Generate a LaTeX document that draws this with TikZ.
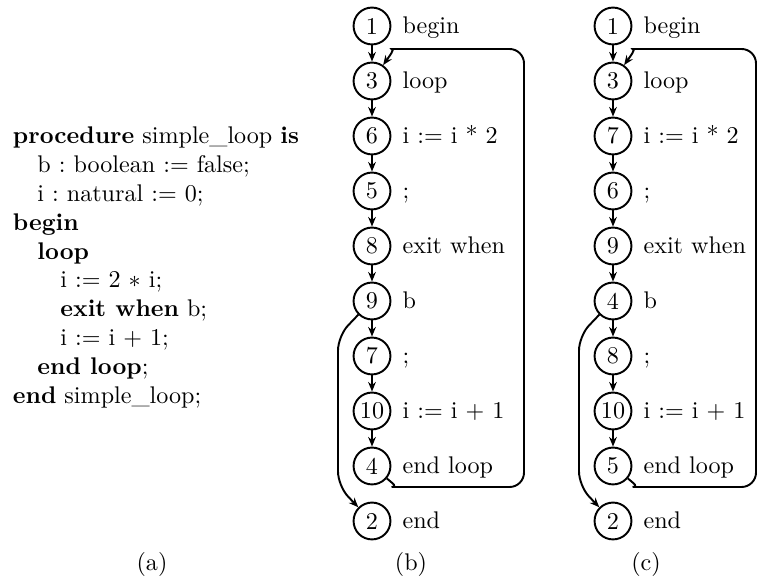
\documentclass[tikz,border=0pt]{standalone}
\usetikzlibrary{arrows.meta}
\begin{document}
\frenchspacing
\begin{tikzpicture}[x=0.415pt,y=-0.415pt,
  nd/.style={circle,draw,line width=0.8pt,minimum size=15.3pt,inner sep=0pt},
  lab/.style={anchor=base west,inner sep=0pt},
  code/.style={anchor=base west,inner sep=0pt},
  captxt/.style={anchor=base,inner sep=0pt},
  arr/.style={-{Stealth[length=4pt,width=3.2pt]},line width=0.8pt}]
\useasboundingbox (0,0) rectangle (758,582);
% (a) source code
\node[code] (c0) at (12.5,143.5) {\textbf{procedure} simple\_loop \textbf{is}};
\node[code] (c1) at (37,172.4) {b : boolean := false;};
\node[code] (c2) at (37,201.3) {i : natural := 0;};
\node[code] (c3) at (12.5,230.2) {\textbf{begin}};
\node[code] (c4) at (37,259.1) {\textbf{loop}};
\node[code] (c5) at (60,288.0) {i := 2 $*$ i;};
\node[code] (c6) at (60,316.9) {\textbf{exit when} b;};
\node[code] (c7) at (60,345.8) {i := i + 1;};
\node[code] (c8) at (37,374.7) {\textbf{end loop};};
\node[code] (c9) at (12.5,403.6) {\textbf{end} simple\_loop;};
% (b)
\foreach \n/\t [count=\k from 0] in {1/begin,3/loop,6/{i := i * 2},5/{;},8/{exit when},9/b,7/{;},10/{i := i + 1},4/{end loop},2/end} {
  \node[nd] (b\k) at (372,{26+55*\k}) {\n};
  \node[lab] (lb\k) at ([xshift=12.5pt,yshift=-3.2pt]b\k.center) {\t};
}
\foreach \k [evaluate=\k as \j using int(\k+1)] in {0,...,7} {
  \draw[arr] (b\k) -- (b\j);
}
\draw[arr,rounded corners=6pt] (b8.-40) to[out=-40,in=180] (406,487) -- (524,487) -- (524,49) -- (406,49) to[out=180,in=55] (b1.55);
\draw[arr,rounded corners=6pt] (b5.-135) -- (338,336) -- (338,486) -- (b9.135);
% (c)
\foreach \n/\t [count=\k from 0] in {1/begin,3/loop,7/{i := i * 2},6/{;},9/{exit when},4/b,8/{;},10/{i := i + 1},5/{end loop},2/end} {
  \node[nd] (d\k) at (613,{26+55*\k}) {\n};
  \node[lab] (ld\k) at ([xshift=12.5pt,yshift=-3.2pt]d\k.center) {\t};
}
\foreach \k [evaluate=\k as \j using int(\k+1)] in {0,...,7} {
  \draw[arr] (d\k) -- (d\j);
}
\draw[arr,rounded corners=6pt] (d8.-40) to[out=-40,in=180] (647,487) -- (756,487) -- (756,49) -- (647,49) to[out=180,in=55] (d1.55);
\draw[arr,rounded corners=6pt] (d5.-135) -- (579,336) -- (579,486) -- (d9.135);
% captions
\node[captxt] (capa) at (152,571) {(a)};
\node[captxt] (capb) at (411,571) {(b)};
\node[captxt] (capc) at (646,571) {(c)};
\end{tikzpicture}
\end{document}
